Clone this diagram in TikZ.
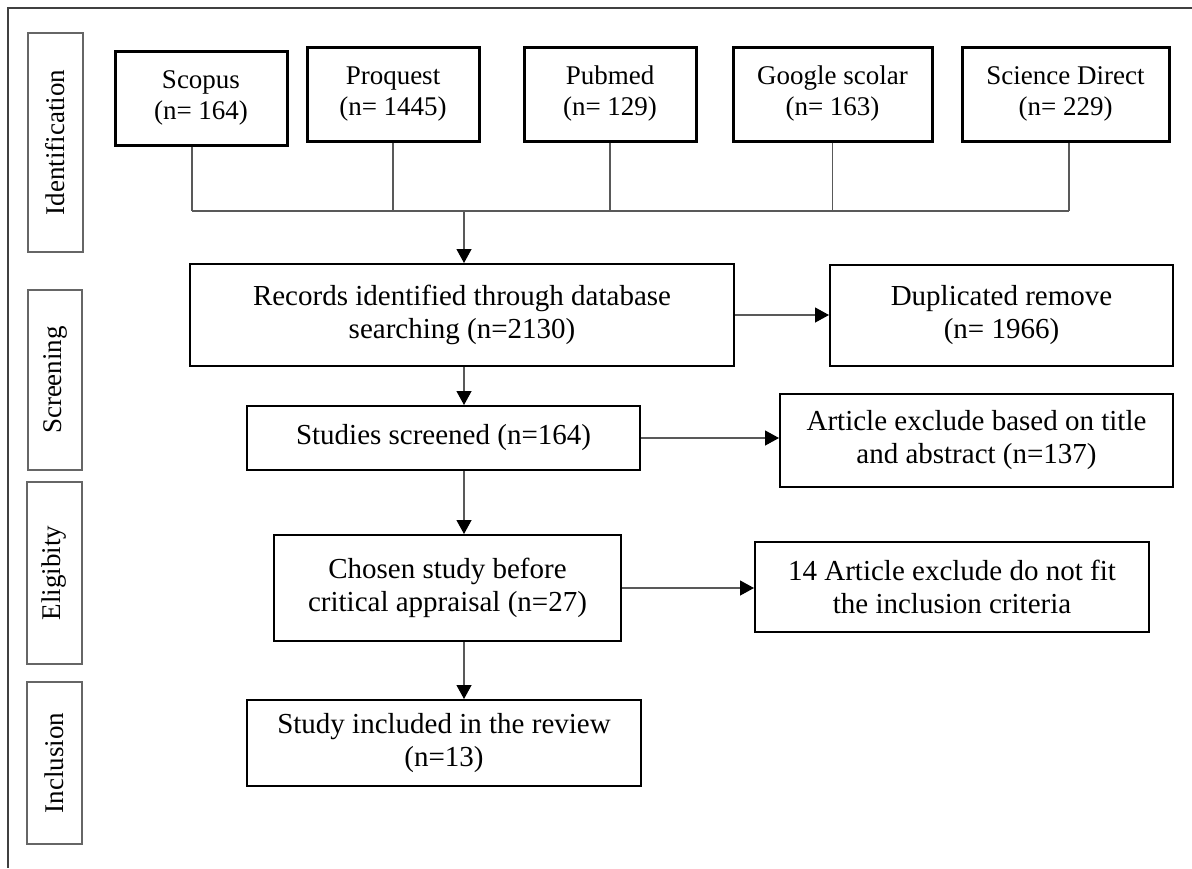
\documentclass[tikz,border=0pt]{standalone}
\usepackage{fontspec}
\setmainfont{Liberation Serif}
\usetikzlibrary{arrows.meta}
\begin{document}
\begin{tikzpicture}[x=0.5pt,y=-0.5pt,
  src/.style={draw=black, line width=1.5pt, align=center, inner sep=0pt, font=\fontsize{13.5}{15.5}\selectfont},
  stepbox/.style={draw=black, line width=1pt, align=center, inner sep=0pt, font=\fontsize{14.5}{16.5}\selectfont},
  lab/.style={draw=black!60, line width=0.6pt, inner sep=0pt, font=\fontsize{13.5}{15.5}\selectfont},
  link/.style={draw=black!65, line width=0.6pt},
  arr/.style={link, -{Triangle[length=7pt,width=7.5pt,color=black]}}
]
\useasboundingbox (0,0) rectangle (1192,868);
\fill[white] (0,0) rectangle (1192,868);
% outer frame (only top and left edges visible)
\draw[line width=1pt, black!75] (1192,8) -- (8,8) -- (8,868);

% stage labels
\node[lab, rotate=90, minimum width=109.5pt, minimum height=27.5pt] (lid) at (55.5,142.5) {Identification};
\node[lab, rotate=90, minimum width=90pt, minimum height=27pt] (lsc) at (55,380) {Screening};
\node[lab, rotate=90, minimum width=91pt, minimum height=27.5pt] (lel) at (54.5,573) {Eligibity};
\node[lab, rotate=90, minimum width=81pt, minimum height=27.5pt] (lin) at (54.5,763) {Inclusion};

% sources
\node[src, minimum width=86pt, minimum height=47pt] (scopus) at (201,98) {Scopus\\(n= 164)};
\node[src, minimum width=86pt, minimum height=47pt] (proquest) at (393,94) {Proquest\\(n= 1445)};
\node[src, minimum width=86pt, minimum height=47pt] (pubmed) at (610,94) {Pubmed\\(n= 129)};
\node[src, minimum width=99.5pt, minimum height=47pt] (google) at (832.5,94) {Google scolar\\(n= 163)};
\node[src, minimum width=103.5pt, minimum height=47pt] (sd) at (1065.5,94) {Science Direct\\(n= 229)};

\coordinate (bus) at (464,211);
\coordinate (d1) at ([xshift=-4.5pt]scopus.south);
\coordinate (d5) at ([xshift=1.75pt]sd.south);
\draw[link] (d1) -- (d1 |- bus);
\draw[link] (proquest.south) -- (proquest.south |- bus);
\draw[link] (pubmed.south) -- (pubmed.south |- bus);
\draw[link] (google.south) -- (google.south |- bus);
\draw[link] (d5) -- (d5 |- bus);
\draw[link] (d1 |- bus) -- (d5 |- bus);

% main flow
\node[stepbox, minimum width=272pt, minimum height=51pt] (records) at (462,315) {Records identified through database\\searching (n=2130)};
\node[stepbox, minimum width=171.5pt, minimum height=50.5pt] (dup) at (1001.5,315.5) {Duplicated remove\\(n= 1966)};
\node[stepbox, minimum width=196.5pt, minimum height=32pt] (studies) at (443.5,438) {Studies screened (n=164)};
\node[stepbox, minimum width=196.5pt, minimum height=46.5pt] (excl1) at (976.5,440.5) {Article exclude based on title\\and abstract (n=137)};
\node[stepbox, minimum width=173.5pt, minimum height=53pt] (chosen) at (447.5,588) {Chosen study before\\critical appraisal (n=27)};
\node[stepbox, minimum width=197pt, minimum height=45pt] (excl2) at (952,587) {14 Article exclude do not fit\\the inclusion criteria};
\node[stepbox, minimum width=197pt, minimum height=43pt] (incl) at (444,743) {Study included in the review\\(n=13)};

\draw[arr] (bus) -- (bus |- records.north);
\draw[arr] (bus |- records.south) -- (bus |- studies.north);
\draw[arr] (bus |- studies.south) -- (bus |- chosen.north);
\draw[arr] (bus |- chosen.south) -- (bus |- incl.north);
\draw[arr] (records.east) -- (records.east -| dup.west);
\draw[arr] (studies.east) -- (studies.east -| excl1.west);
\draw[arr] (chosen.east) -- (chosen.east -| excl2.west);
\end{tikzpicture}
\end{document}
